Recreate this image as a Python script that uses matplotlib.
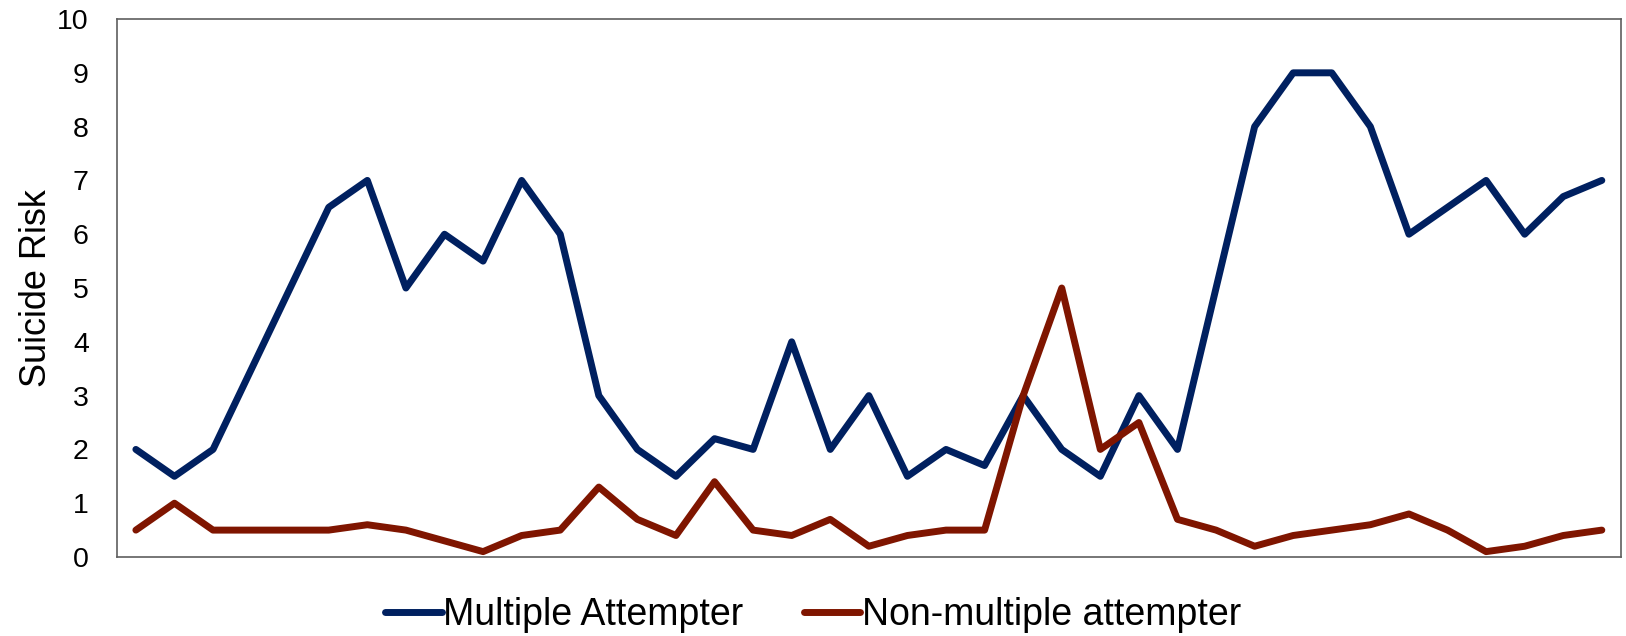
import numpy as np
import matplotlib
matplotlib.use('Agg')
import matplotlib.pyplot as plt

plt.rcParams['font.family'] = ['Liberation Sans', 'DejaVu Sans']

# values, 39 time points
multiple = [2, 1.5, 2, 3.5, 5, 6.5, 7, 5, 6, 5.5, 7, 6, 3, 2,
            1.5, 2.2, 2, 4, 2, 3, 1.5, 2, 1.7, 3, 2, 1.5, 3, 2,
            5, 8, 9, 9, 8, 6, 6.5, 7, 6, 6.7, 7]
non_multiple = [0.5, 1, 0.5, 0.5, 0.5, 0.5, 0.6, 0.5, 0.3, 0.1, 0.4, 0.5, 1.3, 0.7,
                0.4, 1.4, 0.5, 0.4, 0.7, 0.2, 0.4, 0.5, 0.5, 3, 5, 2, 2.5, 0.7,
                0.5, 0.2, 0.4, 0.5, 0.6, 0.8, 0.5, 0.1, 0.2, 0.4, 0.5]
labels = ['Multiple Attempter', 'Non-multiple attempter']
colors = ['#002060', '#7f1500']

fig = plt.figure(figsize=(16.26, 6.36), dpi=100)
ax = fig.add_axes([0.0717, 0.1242, 0.9253, 0.8459])

x = np.arange(len(multiple))
ax.plot(x, multiple, color=colors[0], linewidth=5, label=labels[0], solid_capstyle='round', solid_joinstyle='round')
ax.plot(x, non_multiple, color=colors[1], linewidth=5, label=labels[1], solid_capstyle='round', solid_joinstyle='round')

ax.set_xlim(-0.5, len(multiple) - 0.5)
ax.set_ylim(0, 10)
ax.set_yticks(range(0, 11))
ax.set_xticks([])
ax.tick_params(axis='y', length=0, labelsize=20.5, pad=20)
for s in ax.spines.values():
    s.set_color('#5f5f5f')
    s.set_linewidth(1.2)

ax.set_ylabel('Suicide Risk', fontsize=26, labelpad=2)

fig.legend(loc='center', bbox_to_anchor=(0.5, 0.033), ncol=2, frameon=False,
           fontsize=27, handlelength=1.5, handletextpad=0.05, columnspacing=1.6)

fig.savefig('out.png', dpi=100)
